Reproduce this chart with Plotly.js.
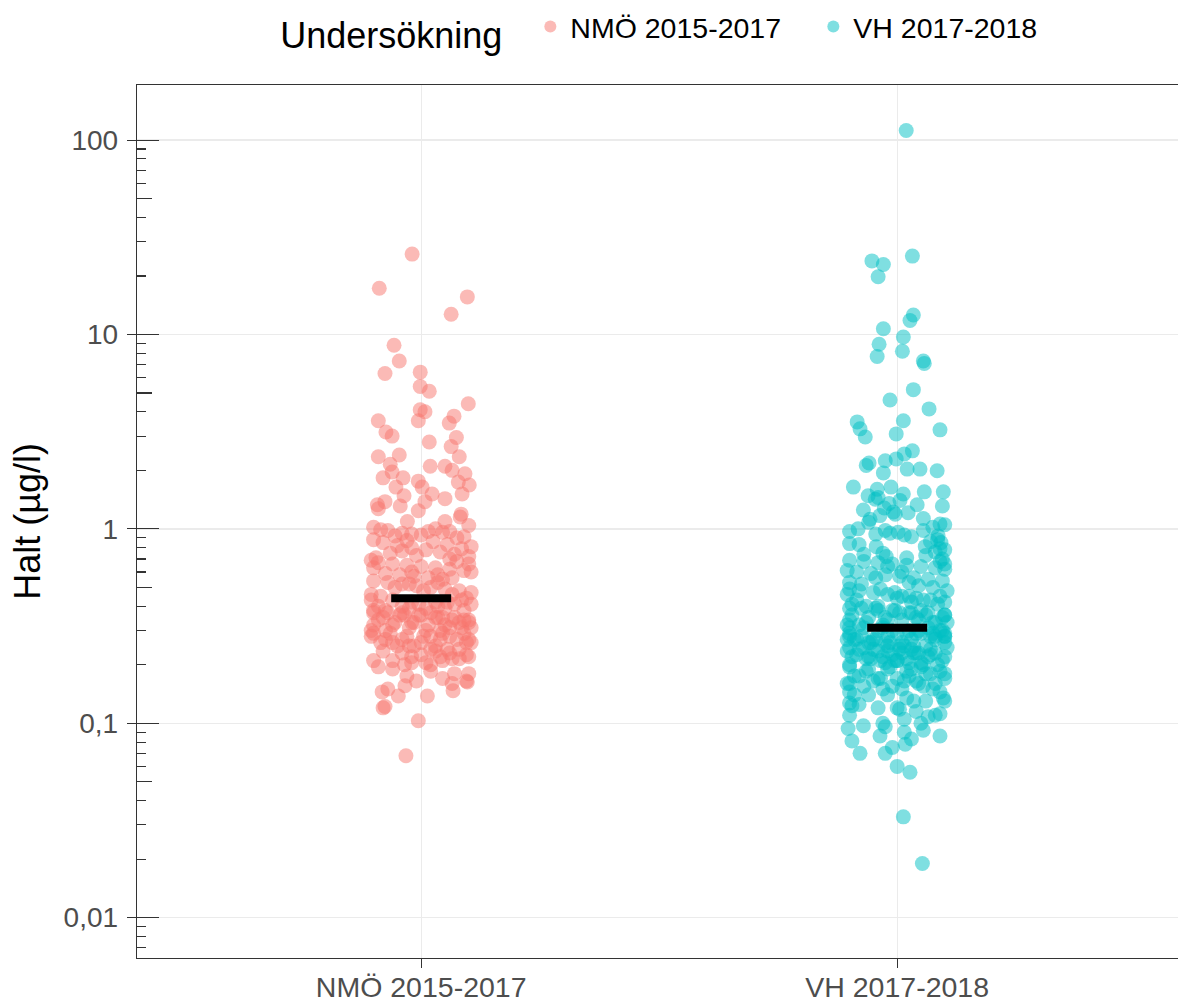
<!DOCTYPE html>
<html><head><meta charset="utf-8">
<script src="https://cdn.plot.ly/plotly-3.0.1.min.js"></script>
<style>html,body{margin:0;padding:0;background:#fff}#chart{width:1178px;height:1002px}</style>
</head><body><div id="chart"></div>
<script>
const categories = ['NMÖ 2015-2017', 'VH 2017-2018'];
const colors = ['rgba(248,118,109,0.5)', 'rgba(0,191,196,0.5)'];
const legendTitle = 'Undersökning';
const yTitle = 'Halt (µg/l)';
const yTickVals = [0.01, 0.1, 1, 10, 100];
const yTickText = ['0,01', '0,1', '1', '10', '100'];
const medians = [0.44, 0.31];

const nmoValues = [
  25.9, 17.3, 15.6, 12.7, 8.8, 7.3, 6.3, 6.4, 5.4, 5.1,
  4.4, 4.1, 4.0, 3.6, 3.8, 3.5, 3.6, 3.15, 3.0, 2.8,
  2.95, 2.65, 2.35, 2.4, 2.35, 2.1, 2.15, 2.1, 2.0, 1.83,
  1.83, 1.96, 1.76, 1.92, 1.74, 1.68, 1.64, 1.64, 1.48, 1.51,
  1.51, 1.43, 1.33, 1.38, 1.31, 1.38, 1.24, 1.19, 1.27, 1.15,
  1.09, 1.09,
  1.02, 0.98, 0.95, 0.93, 1.0, 0.97, 0.91, 0.99, 0.94, 0.96, 1.04, 0.92, 0.90, 0.97,
  0.88, 0.85, 0.82, 0.80, 0.78, 0.76, 0.74, 0.72, 0.71, 0.87, 0.83, 0.79, 0.75, 0.73, 0.86, 0.81, 0.77, 0.70,
  0.69, 0.67, 0.66, 0.65, 0.64, 0.63, 0.62, 0.61, 0.60, 0.59, 0.58, 0.57, 0.56, 0.55, 0.68, 0.66, 0.63, 0.60, 0.58, 0.56,
  0.54, 0.53, 0.52, 0.51, 0.50, 0.49, 0.48, 0.47, 0.46, 0.45, 0.44, 0.53, 0.50, 0.48, 0.46, 0.52,
  0.43, 0.43, 0.42, 0.42, 0.41, 0.41, 0.40, 0.40, 0.39, 0.39, 0.38, 0.38, 0.43, 0.41, 0.40, 0.39, 0.42, 0.38,
  0.37, 0.37, 0.36, 0.36, 0.35, 0.35, 0.34, 0.34, 0.33, 0.33, 0.32, 0.32, 0.31, 0.31, 0.30, 0.30, 0.37,
  0.36, 0.35, 0.34, 0.33, 0.32, 0.31, 0.30, 0.35, 0.33, 0.36, 0.34, 0.32, 0.30, 0.37, 0.33, 0.31, 0.35,
  0.29, 0.29, 0.28, 0.28, 0.27, 0.27, 0.26, 0.26, 0.25, 0.25, 0.24, 0.24, 0.29, 0.28,
  0.27, 0.26, 0.25, 0.28, 0.27, 0.26, 0.25, 0.29, 0.28, 0.26, 0.24, 0.22, 0.27, 0.21,
  0.235, 0.23, 0.225, 0.22, 0.215, 0.21, 0.205, 0.20, 0.23, 0.22, 0.21, 0.20, 0.235, 0.215, 0.225, 0.205,
  0.19, 0.185, 0.18, 0.175, 0.17, 0.165, 0.16, 0.195, 0.18, 0.165,
  0.156, 0.147, 0.145, 0.138, 0.138, 0.122, 0.12, 0.103, 0.068, 0.15, 0.163
];
const nmoJitter = [
  -0.019, -0.088, 0.097, 0.063, -0.057, -0.046, -0.076, -0.002, -0.002, 0.017,
  0.099, -0.002, 0.008, -0.006, 0.069, 0.059, -0.090, -0.074, -0.061, 0.017,
  0.074, 0.063, -0.090, -0.046, 0.080, 0.019, -0.065, 0.050, 0.065, -0.080,
  -0.038, -0.061, -0.006, 0.092, 0.078, 0.101, -0.053, 0.002, -0.036, 0.023,
  0.086, 0.050, -0.092, -0.076, -0.044, 0.008, -0.006, 0.084, -0.090, 0.082,
  0.050, -0.029,
  -0.10, -0.07, -0.04, 0.00, 0.03, 0.06, 0.09, -0.085, -0.02, 0.045, 0.10, -0.055, 0.075, 0.015,
  -0.10, -0.08, -0.05, -0.02, 0.01, 0.04, 0.07, 0.10, -0.095, -0.03, 0.055, 0.085, -0.065, -0.01, 0.025, 0.105, -0.04, 0.06,
  -0.105, -0.09, -0.06, -0.03, 0.00, 0.03, 0.06, 0.09, 0.105, -0.075, -0.045, -0.015, 0.015, 0.045, 0.075, 0.10, -0.10, -0.02, 0.035, 0.065,
  -0.10, -0.07, -0.04, -0.01, 0.02, 0.05, 0.08, 0.105, -0.105, -0.085, 0.095, 0.035, -0.055, 0.005, 0.065, -0.025,
  -0.105, -0.06, -0.02, 0.03, 0.07, 0.105, -0.09, -0.04, 0.01, 0.05, 0.09, -0.075, 0.085, -0.005, 0.035, -0.025, 0.055, -0.10,
  -0.10, -0.07, -0.035, 0.0, 0.035, 0.07, 0.10, -0.09, -0.055, -0.02, 0.015, 0.05, 0.085, 0.105, -0.105, -0.075, -0.04,
  -0.005, 0.03, 0.065, 0.10, -0.06, -0.025, 0.01, 0.045, 0.08, -0.045, 0.09, -0.1, 0.04, 0.02, -0.015, 0.06, -0.08,
  -0.1, -0.065, -0.03, 0.005, 0.04, 0.075, 0.105, -0.085, -0.05, -0.015, 0.02, 0.055, 0.09, -0.105,
  -0.04, 0.0, 0.03, 0.06, -0.075, 0.095, -0.025, 0.045, 0.02, -0.06, 0.08, -0.02, 0.1, 0.045,
  -0.08, -0.04, 0.0, 0.04, 0.08, -0.06, -0.02, 0.02, 0.06, 0.1, -0.1, -0.035, 0.03, 0.065, 0.095, 0.01,
  -0.06, 0.02, 0.07, -0.03, 0.045, 0.095, 0.065, -0.09, 0.1, -0.01,
  -0.034, 0.067, -0.082, -0.048, 0.013, -0.076, -0.08, -0.006, -0.032, -0.07, 0.097
];

const vhValues = [
  112, 23.9, 22.9, 19.8, 25.3, 11.8, 12.6, 10.7, 8.9, 7.7,
  9.7, 8.2, 7.3, 7.1, 5.2, 4.6, 4.14, 3.55, 3.27, 2.97,
  3.6, 3.08, 3.23, 2.18, 2.24, 2.29, 2.43, 2.52, 2.03, 1.94,
  2.03, 1.99, 1.64, 1.48, 1.64, 1.51, 1.55, 1.55, 1.25, 1.33,
  1.31, 1.17, 1.19, 1.13, 1.42, 1.45, 1.35, 1.28, 1.22, 1.4,
  1.21, 1.6, 1.12, 2.12,
  1.0, 0.98, 0.96, 0.98, 0.92, 1.05, 1.08, 0.94, 0.91, 1.02, 0.97, 0.93, 1.06, 0.95,
  0.81, 0.81, 0.79, 0.72, 0.70, 0.88, 0.85, 0.84, 0.76, 0.74, 0.86, 0.78, 0.73, 0.83, 0.75, 0.71,
  0.69, 0.68, 0.67, 0.66, 0.65, 0.64, 0.63, 0.62, 0.61, 0.60, 0.59, 0.58, 0.57,
  0.56, 0.55, 0.54, 0.53, 0.52, 0.51, 0.50, 0.68, 0.64, 0.60, 0.56, 0.53, 0.66,
  0.49, 0.48, 0.47, 0.46, 0.45, 0.44, 0.43, 0.42, 0.41, 0.40, 0.49,
  0.47, 0.45, 0.43, 0.41, 0.48, 0.46, 0.44, 0.42, 0.40, 0.45, 0.43,
  0.39, 0.39, 0.38, 0.38, 0.37, 0.37, 0.36, 0.36, 0.35, 0.35, 0.34, 0.34, 0.33, 0.33, 0.32,
  0.32, 0.39, 0.38, 0.37, 0.36, 0.35, 0.34, 0.33, 0.32, 0.37, 0.35, 0.33, 0.36, 0.34, 0.38,
  0.31, 0.31, 0.30, 0.30, 0.29, 0.29, 0.28, 0.28, 0.27, 0.27,
  0.26, 0.26, 0.25, 0.25, 0.31, 0.30, 0.29, 0.28, 0.27, 0.26,
  0.25, 0.30, 0.29, 0.28, 0.27, 0.26, 0.31, 0.29, 0.27, 0.25,
  0.30, 0.28, 0.26, 0.29, 0.27, 0.28,
  0.30, 0.28, 0.26, 0.24, 0.22, 0.27, 0.25, 0.23, 0.29, 0.21,
  0.245, 0.24, 0.24, 0.235, 0.23, 0.23, 0.225, 0.22, 0.22, 0.215,
  0.21, 0.21, 0.205, 0.20, 0.20, 0.245, 0.235, 0.225, 0.215, 0.205,
  0.24, 0.23, 0.22, 0.21, 0.20, 0.245, 0.235, 0.225, 0.215, 0.205,
  0.23, 0.22, 0.21, 0.24,
  0.195, 0.19, 0.19, 0.185, 0.18, 0.18, 0.175, 0.17, 0.17, 0.165,
  0.16, 0.16, 0.155, 0.15, 0.15, 0.195, 0.185, 0.175, 0.165, 0.155,
  0.19, 0.18, 0.17, 0.16, 0.15, 0.195, 0.175, 0.155, 0.185, 0.165,
  0.17, 0.16,
  0.145, 0.14, 0.14, 0.135, 0.13, 0.13, 0.125, 0.12, 0.12, 0.115,
  0.11, 0.11, 0.105, 0.10, 0.10, 0.145, 0.135, 0.127, 0.123, 0.112,
  0.097, 0.096, 0.14, 0.13, 0.118, 0.108,
  0.094, 0.081, 0.07, 0.07, 0.086, 0.092, 0.086, 0.06, 0.056, 0.078,
  0.033, 0.019, 0.09, 0.083, 0.075
];
const vhJitter = [
  0.019, -0.053, -0.029, -0.040, 0.032, 0.027, 0.034, -0.029, -0.038, -0.042,
  0.013, 0.011, 0.055, 0.057, 0.034, -0.015, 0.067, -0.084, -0.078, -0.067,
  0.013, -0.002, 0.090, -0.059, -0.025, -0.002, 0.015, 0.032, 0.021, -0.029,
  0.048, 0.084, -0.092, -0.061, -0.013, 0.013, 0.057, 0.097, -0.071, 0.042,
  0.095, -0.036, -0.004, 0.055, -0.046, -0.040, -0.017, -0.027, -0.008, 0.006,
  0.023, -0.042, -0.057, -0.065,
  -0.082, -0.025, 0.002, 0.055, 0.086, 0.10, -0.06, -0.045, 0.03, 0.075, -0.1, 0.015, 0.09, -0.015,
  -0.044, 0.059, 0.09, -0.023, 0.095, 0.085, 0.092, -0.1, 0.08, -0.07, 0.07, 0.1, 0.06, -0.08, -0.03, 0.02,
  -0.1, -0.07, -0.04, -0.01, 0.02, 0.05, 0.08, 0.1, -0.105, -0.085, -0.055, -0.025, 0.005,
  0.035, 0.065, 0.095, -0.1, -0.075, 0.045, 0.075, 0.09, -0.02, 0.01, -0.045, 0.025, 0.1,
  -0.1, -0.08, -0.05, -0.02, 0.01, 0.04, 0.07, 0.1, -0.095, -0.065, -0.035,
  -0.005, 0.025, 0.055, 0.085, 0.105, -0.105, 0.0, 0.03, -0.04, 0.09, -0.085,
  -0.1, -0.075, -0.04, -0.005, 0.03, 0.065, 0.1, -0.095, -0.06, -0.025, 0.01, 0.045, 0.08, 0.105, -0.105,
  -0.08, -0.045, -0.01, 0.025, 0.06, 0.095, -0.1, -0.065, -0.03, 0.005, 0.04, 0.075, 0.1, -0.02, 0.05,
  -0.1, -0.07, -0.04, -0.01, 0.02, 0.05, 0.08, 0.1, -0.105, -0.085,
  -0.055, -0.025, 0.005, 0.035, 0.065, 0.095, -0.1, -0.075, -0.045, -0.015,
  0.015, 0.045, 0.075, 0.1, -0.09, -0.06, -0.03, 0.0, 0.03, 0.06,
  0.09, -0.02, 0.01, 0.04, -0.05, 0.07,
  0.025, -0.1, 0.1, 0.07, -0.06, 0.08, -0.02, 0.045, 0.1, 0.0,
  -0.1, -0.08, -0.05, -0.02, 0.01, 0.04, 0.07, 0.1, -0.095, -0.065,
  -0.035, -0.005, 0.025, 0.055, 0.085, 0.105, -0.105, -0.085, -0.055, -0.025,
  0.005, 0.035, 0.065, 0.095, -0.1, -0.07, -0.04, -0.01, 0.02, 0.05,
  0.08, -0.03, 0.0, 0.03,
  -0.1, -0.06, -0.02, 0.02, 0.06, 0.1, -0.08, -0.04, 0.0, 0.04,
  0.08, -0.105, -0.07, -0.03, 0.01, 0.05, 0.09, -0.09, -0.05, -0.01,
  0.03, 0.07, 0.1, -0.1, 0.075, -0.015, 0.025, 0.055, -0.065, 0.015,
  -0.035, 0.045,
  -0.1, -0.06, -0.02, 0.02, 0.06, 0.1, -0.08, -0.04, 0.0, 0.04,
  0.08, -0.1, 0.015, -0.03, 0.05, 0.09, 0.097, -0.1, -0.095, 0.09,
  -0.071, -0.025, -0.09, 0.035, 0.005, 0.065,
  -0.103, -0.095, -0.078, -0.025, -0.036, 0.055, 0.09, 0.0, 0.027, 0.017,
  0.013, 0.053, 0.015, 0.03, -0.01
];

const seriesValues = [nmoValues, vhValues];
const seriesJitter = [nmoJitter, vhJitter];

const FONT = 'Liberation Sans, Arial, Helvetica, sans-serif';
const yRange = [Math.log10(0.0062), Math.log10(192)];
const decades = [0.001, 0.01, 0.1, 1, 10, 100];
const minorVals = [];
const fiveVals = [];
decades.forEach(d => { for (let k = 2; k <= 9; k++) minorVals.push(d * k); fiveVals.push(d * 5); });

const traces = [];
categories.forEach((cat, i) => {
  const vals = seriesValues[i], jit = seriesJitter[i];
  const n = Math.min(vals.length, jit.length);
  traces.push({
    type: 'scatter', mode: 'markers', name: cat,
    x: jit.slice(0, n).map(j => i + 1 + j),
    y: vals.slice(0, n),
    marker: { size: 15, color: colors[i], line: { width: 0 } },
    hoverinfo: 'y'
  });
});
const barHalf = 0.063;
categories.forEach((cat, i) => {
  traces.push({
    type: 'scatter', mode: 'lines', showlegend: false, hoverinfo: 'skip',
    x: [i + 1 - barHalf, i + 1 + barHalf], y: [medians[i], medians[i]],
    line: { color: '#000', width: 8 }
  });
});
traces.push({ type: 'scatter', mode: 'markers', x: [1], y: [1], yaxis: 'y2', showlegend: false, hoverinfo: 'skip', marker: { opacity: 0 } });
traces.push({ type: 'scatter', mode: 'markers', x: [1], y: [1], yaxis: 'y3', showlegend: false, hoverinfo: 'skip', marker: { opacity: 0 } });

const overlayAxis = (vals, len) => ({
  overlaying: 'y', anchor: 'x', side: 'left', type: 'log', range: yRange, autorange: false,
  tickmode: 'array', tickvals: vals, ticks: 'inside', ticklen: len, tickwidth: 1.1, tickcolor: '#333',
  showticklabels: false, showgrid: false, showline: false, zeroline: false
});

const layout = {
  width: 1178, height: 1002,
  margin: { l: 137, r: 0, t: 85, b: 44 },
  paper_bgcolor: '#fff', plot_bgcolor: '#fff',
  font: { family: FONT, color: '#000' },
  showlegend: true,
  legend: {
    orientation: 'h', x: 0.529, xanchor: 'center', y: 1.063, yanchor: 'middle',
    title: { text: legendTitle + '\u00a0\u00a0', side: 'left', font: { size: 36, color: '#000' } },
    font: { size: 28.5, color: '#000' }, itemsizing: 'constant',
    entrywidth: 238, entrywidthmode: 'pixels'
  },
  xaxis: {
    type: 'linear', range: [0.403, 2.59], autorange: false,
    tickmode: 'array', tickvals: [1, 2], ticktext: categories,
    ticks: 'outside', ticklen: 9, tickwidth: 1.1, tickcolor: '#333',
    tickfont: { size: 28.5, color: '#4D4D4D' }, ticklabelstandoff: -6,
    showgrid: true, gridcolor: '#EBEBEB', gridwidth: 1.3,
    showline: true, linecolor: '#333', linewidth: 1.3, mirror: true, zeroline: false
  },
  yaxis: {
    type: 'log', range: yRange, autorange: false,
    tickmode: 'array', tickvals: yTickVals, ticktext: yTickText,
    ticks: 'outside', ticklen: 9, tickwidth: 1.1, tickcolor: '#333',
    tickfont: { size: 28, color: '#4D4D4D' }, ticklabelstandoff: 3,
    minor: { tickmode: 'array', tickvals: minorVals, ticks: 'inside', ticklen: 9, tickwidth: 1.1, tickcolor: '#333', showgrid: false },
    showgrid: true, gridcolor: '#EBEBEB', gridwidth: 1.3,
    showline: true, linecolor: '#333', linewidth: 1.3, mirror: true, zeroline: false,
    title: { text: yTitle, font: { size: 36, color: '#000' }, standoff: 12 }
  },
  yaxis2: overlayAxis(decades, 22),
  yaxis3: overlayAxis(fiveVals, 15)
};

Plotly.newPlot('chart', traces, layout, { displayModeBar: false, staticPlot: true });
</script>
</body></html>
